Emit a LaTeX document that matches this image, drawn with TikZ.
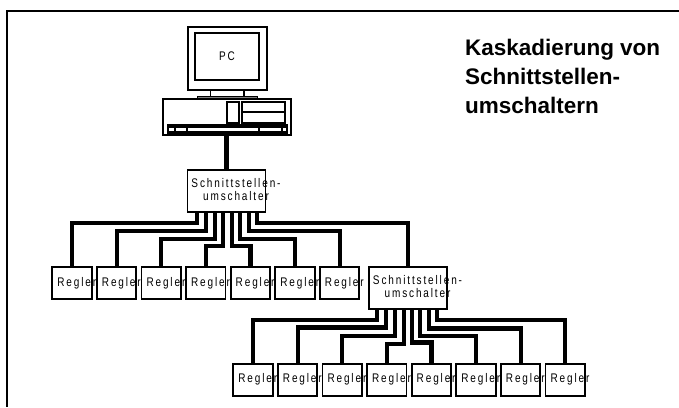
\documentclass[tikz,border=0pt]{standalone}
\usepackage{fontspec}
\setmainfont{Liberation Sans}
\newfontfamily\boxfont[LetterSpace=15,FakeStretch=0.8]{Liberation Sans}
\usepackage{tikz}
\newcommand{\reglertext}{\makebox[0pt]{\kern9.5pt\raisebox{-2.5pt}{Regler}}}
\newcommand{\schalttext}{\makebox[0pt]{\kern19pt\raisebox{-2.5pt}{\begin{tabular}{@{}c@{}}Schnittstellen-\\[0.5pt]umschalter\end{tabular}}}}
\tikzset{
	rahmen/.style={line width=2pt},
	bus/.style={line width=4.2pt},
	regler/.style={draw,line width=1.8pt,minimum width=39.5pt,minimum height=32pt,inner sep=0pt,font=\fontsize{12.5}{13}\boxfont},
	schalter/.style={draw,line width=1.8pt,fill=white,minimum width=78pt,minimum height=42pt,inner sep=0pt,font=\fontsize{12.5}{12.5}\boxfont},
}
\begin{document}
\begin{tikzpicture}[x=1pt,y=-1pt]
	\useasboundingbox (0,0) rectangle (679,407);
	\draw[rahmen] (679,10.5) -- (7,10.5) -- (7,407);
	\node[anchor=north west,align=left,inner sep=0pt,font=\fontsize{22.5}{29}\selectfont\bfseries] (titel) at (465,38.5) {Kaskadierung von\\Schnittstellen-\\umschaltern};
	% PC
	\draw[line width=2pt] (188,27) rectangle (266.5,90);
	\node[draw,line width=2pt,minimum width=63.5pt,minimum height=46.5pt,inner sep=0pt,font=\fontsize{12.5}{13}\boxfont] (pc) at (227,56.5) {\raisebox{-2pt}{PC}};
	\draw[line width=1.2pt] (210.5,90) -- (210.5,96) (244,90) -- (244,96);
	\draw[line width=1pt,fill=gray] (197,96.5) rectangle (257,99.5);
	\node[draw,line width=1.2pt,minimum width=128pt,minimum height=36pt,inner sep=0pt] (tower) at (227,117) {};
	\draw[line width=1.5pt] (227,102) rectangle (239,123);
	\draw[line width=1.5pt] (242,102) rectangle (285,123);
	\draw[line width=2pt] (242,112) -- (285,112);
	\draw[line width=1.2pt] (168,125) rectangle (287,133);
	\draw[line width=3pt] (168,126.5) -- (287,126.5);
	\draw[line width=1.2pt] (175,126) -- (175,133) (187,126) -- (187,133) (259,126) -- (259,133) (282,126) -- (282,133);
	\draw[line width=1.8pt] (168,131.5) -- (287,131.5);
	% erste Stufe
	\node[schalter] (s1) at (226.5,191.3) {\schalttext};
	\foreach \n/\x in {1/72,2/116.6,3/161.2,4/205.8,5/250.4,6/295,7/339.6}
		\node[regler] (r\n) at (\x,283.3) {\reglertext};
	\node[schalter] (s2) at (408,288) {\schalttext};
	\draw[bus] (tower.south) -- (tower.south -| s1.north) -- (s1.north);
	\foreach \o/\d/\z in {10.5/10/r1,19.5/17.5/r2,28/26/r3,36.5/33/r4,45/33/r5,53.5/26/r6,62/17.5/r7,70.5/9.5/s2}
		\draw[bus] ([xshift=\o pt]s1.south west) -- ++(0,\d) -| (\z.north);
	% zweite Stufe
	\foreach \n/\x in {1/253,2/297.6,3/342.2,4/386.8,5/431.4,6/476,7/520.6,8/565.2}
		\node[regler] (q\n) at (\x,379.7) {\reglertext};
	\foreach \o/\d/\z in {9/10/q1,18/17.5/q2,27/26/q3,36/34/q4,44/32.5/q5,52/26/q6,60.5/18.5/q7,69/10/q8}
		\draw[bus] ([xshift=\o pt]s2.south west) -- ++(0,\d) -| (\z.north);
\end{tikzpicture}
\end{document}
